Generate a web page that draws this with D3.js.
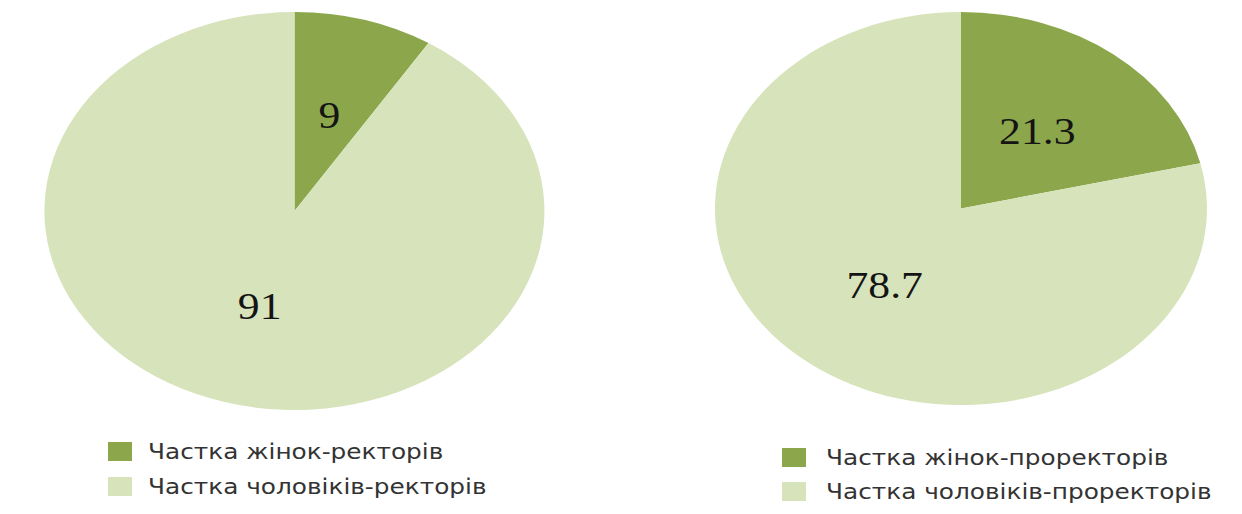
<!DOCTYPE html>
<html>
<head>
<meta charset="utf-8">
<script src="https://cdn.jsdelivr.net/npm/d3@7"></script>
<style>
  html, body { margin: 0; padding: 0; background: #ffffff; }
  svg { display: block; }
</style>
</head>
<body>
<svg id="chart" width="1242" height="514"></svg>
<script>
// Share of women vs. men among rectors and vice-rectors (%)
const rectorLabels = ["Частка жінок-ректорів", "Частка чоловіків-ректорів"];
const rectorValues = [9, 91];
const proRectorLabels = ["Частка жінок-проректорів", "Частка чоловіків-проректорів"];
const proRectorValues = [21.3, 78.7];
const sliceColors = ["#8ca74b", "#d7e3bb"];

const svg = d3.select("#chart");
const stretch = 1.18; // horizontal text stretch, matching the oval pies

const pie = d3.pie().sort(null).value(d => d);
const unitArc = d3.arc().innerRadius(0).outerRadius(1);
const labelArc = d3.arc().innerRadius(0.5).outerRadius(0.5);

function drawPie(values, labels, cfg) {
  const g = svg.append("g");
  const arcs = pie(values);

  // pie drawn on a unit circle, then stretched into an ellipse
  g.append("g")
    .attr("transform", `translate(${cfg.cx},${cfg.cy}) scale(${cfg.rx},${cfg.ry})`)
    .selectAll("path")
    .data(arcs)
    .join("path")
    .attr("d", unitArc)
    .attr("fill", (d, i) => sliceColors[i]);

  // value labels at the slice centroids
  g.selectAll("text.value")
    .data(arcs)
    .join("text")
    .attr("class", "value")
    .attr("transform", d => {
      const [x, y] = labelArc.centroid(d);
      return `translate(${cfg.cx + x * cfg.rx},${cfg.cy + y * cfg.ry}) scale(${stretch},1)`;
    })
    .attr("text-anchor", "middle")
    .attr("dominant-baseline", "central")
    .attr("font-family", "'Liberation Serif', 'Times New Roman', serif")
    .attr("font-size", 37)
    .attr("fill", "#141414")
    .text(d => d.data);

  // legend
  const lg = g.append("g").attr("transform", `translate(${cfg.lx},${cfg.ly})`);
  const row = lg.selectAll("g").data(labels).join("g")
    .attr("transform", (d, i) => `translate(0,${i * cfg.lgap})`);
  row.append("rect")
    .attr("x", 0).attr("y", -10)
    .attr("width", 24).attr("height", 19)
    .attr("fill", (d, i) => sliceColors[i]);
  row.append("text")
    .attr("transform", `translate(${cfg.tx},0) scale(${stretch},1)`)
    .attr("dominant-baseline", "central")
    .attr("font-family", "'DejaVu Sans', Verdana, sans-serif")
    .attr("font-size", 21)
    .attr("fill", "#333333")
    .text(d => d);
}

drawPie(rectorValues, rectorLabels,
  { cx: 294.5, cy: 211, rx: 250, ry: 199, lx: 108, ly: 452, lgap: 35, tx: 40 });
drawPie(proRectorValues, proRectorLabels,
  { cx: 961, cy: 208.5, rx: 246, ry: 196.5, lx: 782, ly: 458, lgap: 34, tx: 44 });
</script>
</body>
</html>
